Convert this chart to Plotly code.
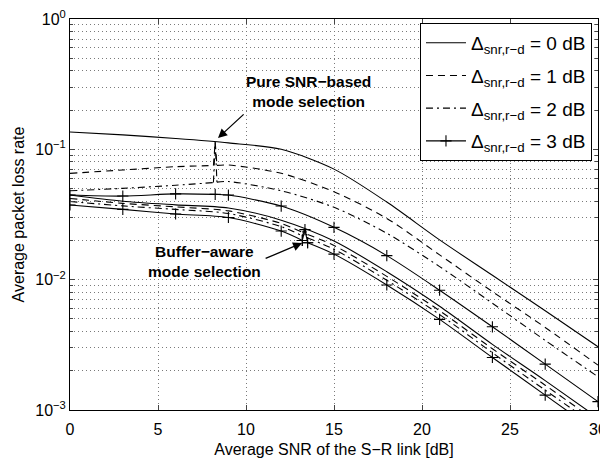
import plotly.graph_objects as go

# ---------------- data ----------------
# Pure SNR-based mode selection (upper group)
pure_x0 = [0, 3, 6, 9, 12, 15, 18, 21, 24, 27, 30]
pure_d0 = [0.136, 0.129, 0.121, 0.112, 0.100, 0.0705, 0.0394, 0.0202, 0.0108, 0.00578, 0.00306]

pure_xs = [0, 3, 6, 8.15, 8.25, 8.35, 9, 12, 15, 18, 21, 24, 27, 30]
pure_d1 = [0.0654, 0.0694, 0.0736, 0.0751, 0.114, 0.0753, 0.0758, 0.0655, 0.0473, 0.0295, 0.0155, 0.0081, 0.0043, 0.00221]
pure_d2 = [0.0481, 0.0502, 0.0530, 0.0556, 0.114, 0.0560, 0.0566, 0.0481, 0.0359, 0.0227, 0.0126, 0.0066, 0.00342, 0.00180]
pure_spike = (3, 5)   # index range of the switching spike

pure_x3 = [0, 3, 6, 8.25, 9, 12, 15, 18, 21, 24, 27, 30]
pure_d3 = [0.0446, 0.0438, 0.0455, 0.0451, 0.0446, 0.0367, 0.0252, 0.0153, 0.0083, 0.00435, 0.00225, 0.00116]

# Buffer-aware mode selection (lower group)
buf_x0 = [0, 3, 6, 9, 12, 15, 18, 21, 24, 27, 30]
buf_d0 = [0.0446, 0.0400, 0.0375, 0.0355, 0.0286, 0.0198, 0.0115, 0.00625, 0.00319, 0.00168, 0.00087]

buf_xs = [0, 3, 6, 9, 12, 13.2, 13.35, 13.5, 15, 18, 21, 24, 27, 30]
buf_d1 = [0.0420, 0.0385, 0.0362, 0.0337, 0.0270, 0.0231, 0.0242, 0.0222, 0.0183, 0.0106, 0.00578, 0.00295, 0.00155, 0.00080]
buf_d2 = [0.0398, 0.0368, 0.0346, 0.0322, 0.0255, 0.0217, 0.0242, 0.0209, 0.0171, 0.0099, 0.00540, 0.00275, 0.00142, 0.00074]
buf_d3 = [0.0374, 0.0346, 0.0319, 0.0300, 0.0236, 0.0200, 0.0242, 0.0192, 0.0157, 0.0091, 0.00496, 0.00253, 0.00130, 0.00067]
buf_spike = (5, 7)

legend_names = [
    "Δ<sub>snr,r−d</sub> = 0 dB",
    "Δ<sub>snr,r−d</sub> = 1 dB",
    "Δ<sub>snr,r−d</sub> = 2 dB",
    "Δ<sub>snr,r−d</sub> = 3 dB",
]

x_ticks = [0, 5, 10, 15, 20, 25, 30]
y_ticks = [1e-3, 1e-2, 1e-1, 1]
y_ticktext = ["10<sup>−3</sup>", "10<sup>−2</sup>", "10<sup>−1</sup>", "10<sup>0</sup>"]
y_minor = [m * 10.0 ** e for e in (-3, -2, -1) for m in range(2, 10)]

# ---------------- styles ----------------
LW = 1.1
dashes = ["solid", "7px,5px", "7px,4px,2px,4px", "solid"]
modes = ["lines", "lines", "lines", "lines+markers"]
marker = dict(symbol="cross-thin", size=8, line=dict(width=1.1, color="black"), color="black")
FONT = "Liberation Sans, Arial, Helvetica, sans-serif"

fig = go.Figure()


def pieces(xs, ys, spike):
    """split a curve so that the smooth parts are splines and the spike stays sharp"""
    if spike is None:
        return [(xs, ys, "spline")]
    a, b = spike
    return [(xs[:a + 1], ys[:a + 1], "spline"),
            (xs[a:b + 1], ys[a:b + 1], "linear"),
            (xs[b:], ys[b:], "spline")]


groups = [
    [(pure_x0, pure_d0, None), (buf_x0, buf_d0, None)],
    [(pure_xs, pure_d1, pure_spike), (buf_xs, buf_d1, buf_spike)],
    [(pure_xs, pure_d2, pure_spike), (buf_xs, buf_d2, buf_spike)],
    [(pure_x3, pure_d3, None), (buf_xs, buf_d3, buf_spike)],
]

for i, grp in enumerate(groups):
    first = True
    for xs, ys, spike in grp:
        for px, py, shape in pieces(xs, ys, spike):
            fig.add_trace(go.Scatter(
                x=px, y=py, mode=modes[i], name=legend_names[i],
                line=dict(color="black", width=LW, dash=dashes[i], shape=shape, smoothing=0.8),
                marker=marker, legendgroup=f"g{i}", showlegend=first,
            ))
            first = False

# ---------------- annotations ----------------
fig.add_annotation(x=13.53, y=-0.553, xref="x", yref="y",
                   text="<b>Pure SNR−based<br>mode selection</b>", showarrow=False,
                   font=dict(size=15.5, family=FONT, color="black"), align="center")
fig.add_annotation(x=7.67, y=-1.857, xref="x", yref="y",
                   text="<b>Buffer−aware<br>mode selection</b>", showarrow=False,
                   font=dict(size=15.5, family=FONT, color="black"), align="center")
fig.add_annotation(x=8.41, y=-0.913, ax=9.95, ay=-0.721, xref="x", yref="y",
                   axref="x", ayref="y", text="", showarrow=True,
                   arrowhead=2, arrowsize=1.4, arrowwidth=1.3, arrowcolor="black", standoff=0)
fig.add_annotation(x=13.19, y=-1.719, ax=11.03, ay=-1.842, xref="x", yref="y",
                   axref="x", ayref="y", text="", showarrow=True,
                   arrowhead=2, arrowsize=1.4, arrowwidth=1.3, arrowcolor="black", standoff=0)

GRID = "#7a7a7a"
GDASH = "1px,3px"
# the page body adds an 8px offset, so the figure is 600x450 with shifted margins
fig.update_layout(
    width=600, height=450,
    margin=dict(l=62, r=10, t=11, b=48),
    paper_bgcolor="white", plot_bgcolor="white",
    font=dict(family=FONT, size=16, color="black"),
    showlegend=True,
    legend=dict(x=0.9886, y=0.99, xanchor="right", yanchor="top",
                bordercolor="black", borderwidth=1, bgcolor="white",
                font=dict(size=19, family=FONT), itemwidth=40,
                tracegroupgap=5),
    xaxis=dict(range=[0, 30], tickvals=x_ticks, ticks="inside", ticklen=5,
               showline=True, linecolor="black", linewidth=1, mirror="allticks",
               showgrid=True, gridcolor=GRID, griddash=GDASH, gridwidth=1,
               zeroline=False, tickfont=dict(size=16), automargin=False,
               ticklabeloverflow="allow", ticklabelstandoff=5,
               title=dict(text="Average SNR of the S−R link [dB]", font=dict(size=16), standoff=13)),
    yaxis=dict(type="log", range=[-3, 0], tickvals=y_ticks, ticktext=y_ticktext,
               ticks="inside", ticklen=5,
               showline=True, linecolor="black", linewidth=1, mirror="allticks",
               showgrid=True, gridcolor=GRID, griddash=GDASH, gridwidth=1,
               zeroline=False, tickfont=dict(size=16), automargin=False,
               ticklabeloverflow="allow",
               minor=dict(tickvals=y_minor, ticks="inside", ticklen=3, showgrid=True,
                          gridcolor=GRID, griddash=GDASH, gridwidth=1),
               title=dict(text="Average packet loss rate", font=dict(size=16), standoff=6)),
)

fig.write_html("out.html")
